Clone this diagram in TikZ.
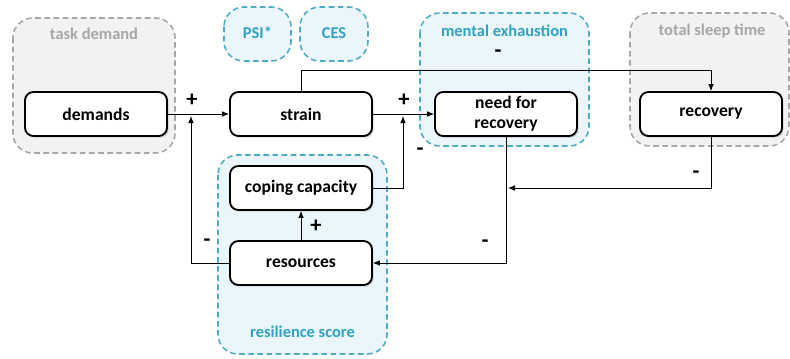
\documentclass[tikz,border=0pt]{standalone}
\usepackage{fontspec}
\setmainfont{Carlito}
\usetikzlibrary{arrows.meta,shadows}
\definecolor{aqua}{HTML}{4BACC6}
\definecolor{aquafill}{HTML}{EBF6FA}
\definecolor{aquatext}{HTML}{31A2BF}
\definecolor{greyline}{HTML}{A6A6A6}
\definecolor{greyfill}{HTML}{F2F2F2}

\begin{document}
\begin{tikzpicture}[
            x=0.025cm, y=-0.025cm,
            factor/.style={rectangle, rounded corners=6pt, draw=black, line width=1.3pt,
                                        fill=white, minimum width=3.55cm, minimum height=1.1cm,
                                        align=center, font=\bfseries\fontsize{12.5}{14}\selectfont,
                                        drop shadow={shadow xshift=1.2pt, shadow yshift=-1.2pt, opacity=0.3}},
            measure/.style={draw=aqua, fill=aquafill, line width=1.1pt,
                                        dash pattern=on 4pt off 2.5pt, rounded corners=14pt},
            context/.style={draw=greyline, fill=greyfill, line width=1.1pt,
                                        dash pattern=on 4pt off 2.5pt, rounded corners=14pt},
            measurelabel/.style={text=aquatext, font=\bfseries\fontsize{11.7}{12}\selectfont},
            contextlabel/.style={text=greyline, font=\bfseries\fontsize{11.7}{12}\selectfont},
            flow/.style={-{Latex[length=5pt,width=4pt]}, line width=0.6pt},
            sign/.style={font=\bfseries\fontsize{16}{16}\selectfont, inner sep=0pt}
        ]
        \useasboundingbox (0,0) rectangle (790,358);

        % Measurement groups
        \draw[context] (13,18) rectangle (175,153);
        \node[contextlabel] (tasklabel) at (94,34) {task demand};
        \draw[measure] (224,7) rectangle (291,61);
        \node[measurelabel] (psi) at (257.5,33) {PSI*};
        \draw[measure] (300,7) rectangle (368,61);
        \node[measurelabel] (ces) at (334,33) {CES};
        \draw[measure] (420,13) rectangle (589,146);
        \node[measurelabel] (exhlabel) at (504.5,31) {mental exhaustion};
        \draw[context] (630,13) rectangle (789,146);
        \node[contextlabel] (sleeplabel) at (712,31) {total sleep time};
        \draw[measure] (218,155) rectangle (387,354);
        \node[measurelabel] (reslabel) at (302.5,332) {resilience score};

        % Factors
        \node[factor] (demands) at (96,114) {demands};
        \node[factor] (strain) at (301,114) {strain};
        \node[factor] (need) at (506,114) {need for\\recovery};
        \node[factor] (recovery) at (711,114) {recovery};
        \node[factor] (coping) at (301,188) {coping capacity};
        \node[factor] (resources) at (301,263) {resources};

        % Junctions
        \coordinate (join1) at (191,116);
        \coordinate (join2) at (403,116);
        \coordinate (join3) at (508,188);

        % Connections
        \draw[flow] (demands) -- (strain);
        \draw[flow] (resources.west) -| (join1);
        \draw[flow] (strain.north) -- ++(0,-21) -| (recovery.north);
        \draw[flow] (strain) -- (need);
        \draw[flow] (coping.east) -| (join2);
        \draw[flow] (need.south) |- (resources.east);
        \draw[flow] (recovery.south) |- (join3);
        \draw[flow] (resources) -- (coping);

        % Signs
        \node[sign] (s1) at (192,100) {+};
        \node[sign] (s2) at (404,100) {+};
        \node[sign] (s3) at (498,54) {-};
        \node[sign] (s4) at (420,152) {-};
        \node[sign] (s5) at (696,175) {-};
        \node[sign] (s6) at (316,226) {+};
        \node[sign] (s7) at (207,243) {-};
        \node[sign] (s8) at (485,244) {-};

        \end{tikzpicture}
\end{document}
